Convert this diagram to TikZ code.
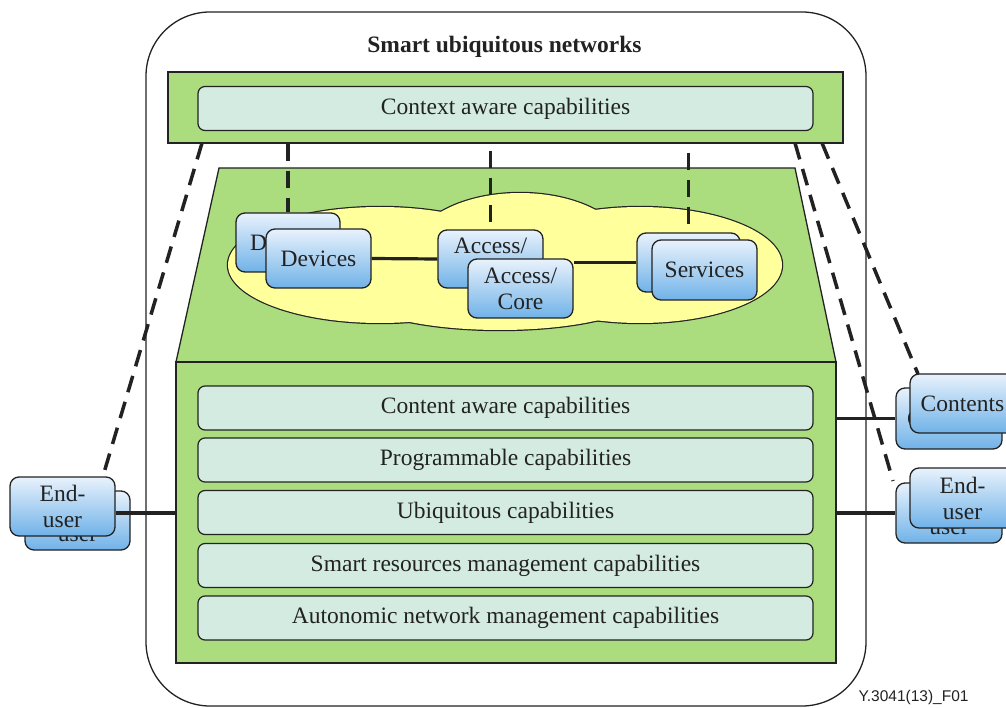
\documentclass[tikz,border=0pt]{standalone}
\usepackage{fontspec}
\setmainfont{Liberation Serif}
\newfontfamily\capfont{Liberation Sans}
\definecolor{leaf}{HTML}{ABDC7E}
\definecolor{mint}{HTML}{D3EBE0}
\definecolor{cream}{HTML}{FFFF9C}
\definecolor{skytop}{HTML}{E8F2FC}
\definecolor{skybot}{HTML}{70B2E8}
\definecolor{ink}{HTML}{222222}
\tikzset{
  greenpart/.style={draw=ink, line width=1.3pt, fill=leaf},
  capbox/.style={draw=ink, line width=1.2pt, fill=mint, rounded corners=7pt,
    minimum width=615pt, minimum height=44pt, inner sep=0pt,
    font=\fontsize{23.5}{26}\selectfont, text=ink},
  bluebox/.style={draw=ink, line width=1.3pt, top color=skytop, bottom color=skybot,
    rounded corners=9pt, minimum width=105pt, minimum height=59pt, inner sep=0pt,
    align=center, font=\fontsize{23.5}{26}\selectfont, text=ink},
  link/.style={ink, line width=3.2pt},
  dashlink/.style={ink, line width=3.5pt, dash pattern=on 17pt off 10pt},
}
\begin{document}
\begin{tikzpicture}[x=1pt, y=-1pt]
\useasboundingbox (0,0) rectangle (1006,708);

% outer frame
\draw[ink, line width=1.3pt, rounded corners=64pt] (146,12) rectangle (866,706);
\node[font=\bfseries\fontsize{23.5}{26}\selectfont, text=ink] (title) at (504.5,47) {Smart ubiquitous networks};

% top layer
\node[greenpart, minimum width=675pt, minimum height=71pt, inner sep=0pt] (band) at (505.5,107.5) {};
\node[capbox] (ctx) at (505.5,108.5) {Context aware capabilities};

% network layer: trapezoid and lower block
\draw[greenpart] (219,168) -- (795,168) -- (836,362) -- (176,362) -- cycle;
\node[greenpart, minimum width=660pt, minimum height=301pt, inner sep=0pt] (lower) at (506,512.5) {};

% cloud: union of ellipses (outlines first, then fill)
\begin{scope}[ink, line width=2.4pt]
  \draw (380,265) ellipse [x radius=152, y radius=58];
  \draw (520,255) ellipse [x radius=110, y radius=62];
  \draw (640,265) ellipse [x radius=142, y radius=58];
  \draw (500,290) ellipse [x radius=150, y radius=40];
\end{scope}
\begin{scope}[fill=cream]
  \fill (380,265) ellipse [x radius=152, y radius=58];
  \fill (520,255) ellipse [x radius=110, y radius=62];
  \fill (640,265) ellipse [x radius=142, y radius=58];
  \fill (500,290) ellipse [x radius=150, y radius=40];
\end{scope}

% capability stack
\node[capbox] (c1) at (505.5,408) {Content aware capabilities};
\node[capbox] (c2) at (505.5,460) {Programmable capabilities};
\node[capbox] (c3) at (505.5,512.5) {Ubiquitous capabilities};
\node[capbox] (c4) at (505.5,565.5) {Smart resources management capabilities};
\node[capbox] (c5) at (505.5,618) {Autonomic network management capabilities};

% network elements (stacked pairs)
\node[bluebox, minimum width=104pt] (devB) at (288,242.5) {Devices};
\node[bluebox, minimum height=58pt] (accB) at (490.5,259) {Access/\\Core};
\node[bluebox, minimum width=103pt] (svB) at (688.5,262.5) {\hspace*{10pt}Services};

\node[bluebox] (devF) at (318.5,258.5) {Devices};
\node[bluebox] (accF) at (520.5,288.5) {Access/\\Core};
\node[bluebox, minimum height=60pt] (svF) at (704.5,270) {Services};
\draw[link] (devF.east) -- (accB.west);
\draw[link] (svB.west) -- (svB.west -| accF.east);

% links from the context layer down to the elements
\draw[dashlink] (devB.north |- band.south) -- (devB.north);
\draw[dashlink] (accB.north |- band.south) ++(0,7) -- (accB.north);
\draw[dashlink] (svB.north |- band.south) ++(0,9) -- (svB.north);

% users and contents outside the network
\node[bluebox] (euLb) at (77.5,520.5) {End-\\user};
\node[bluebox, minimum width=106pt, minimum height=61pt] (ctB) at (949,418.5) {Contents};
\node[bluebox, minimum width=106pt, minimum height=60pt] (euRb) at (949,513) {End-\\user};

\coordinate (dl0) at (202,143);
\coordinate (dl1) at (103,476);
\coordinate (dr0) at (795,143);
\coordinate (dr1) at (893,481);
\coordinate (dq0) at (822,143);
\coordinate (dq1) at (918,374);
\draw[dashlink] (dl0) -- (dl1);
\draw[dashlink] (dr0) -- (dr1);
\draw[dashlink] (dq0) -- (dq1);

\draw[link] (lower.east |- ctB.west) -- (ctB.west);
\draw[link] (lower.east |- euRb.west) -- (euRb.west);

\node[bluebox] (euLf) at (62.5,506.5) {End-\\user};
\node[bluebox, minimum height=59pt] (ctF) at (962.5,403.5) {Contents};
\node[bluebox, minimum height=60pt] (euRf) at (962.5,498) {End-\\user};
\draw[link] ([yshift=-6.5pt]euLf.east) -- ([yshift=-6.5pt]euLf.east -| lower.west);

% figure reference
\node[font=\capfont\fontsize{15.5}{18}\selectfont, text=ink] (ref) at (913.5,697) {Y.3041(13)\_F01};
\end{tikzpicture}
\end{document}
